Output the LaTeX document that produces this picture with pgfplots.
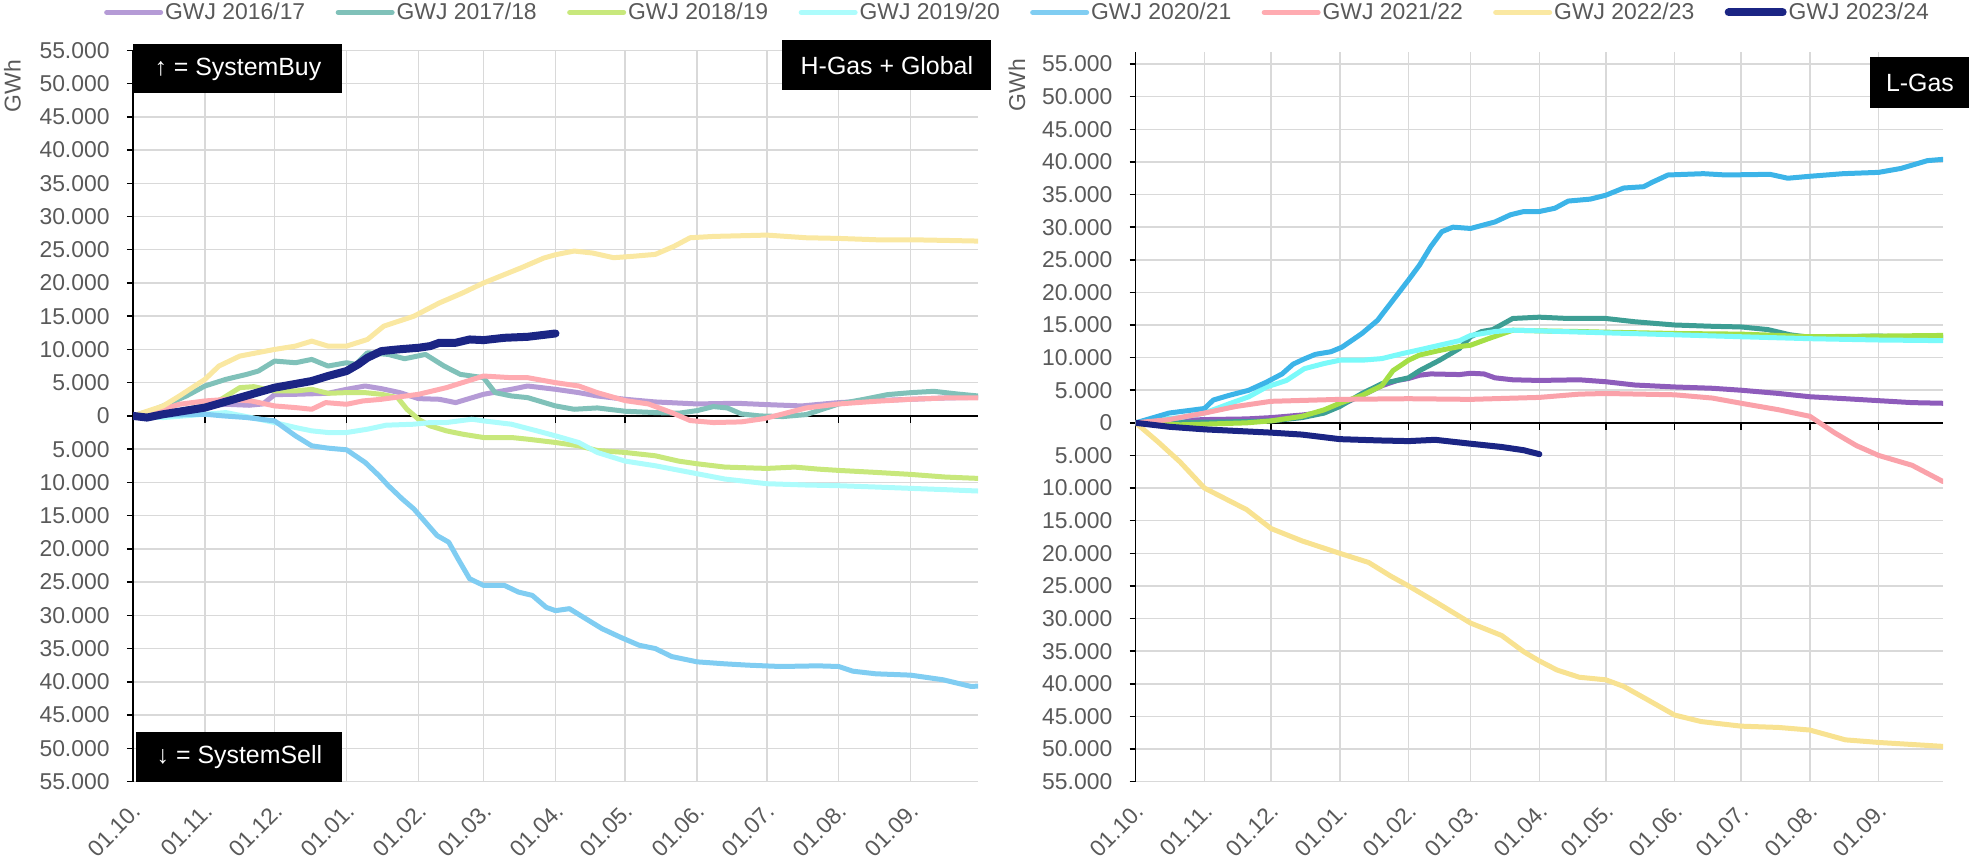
\documentclass[border=0pt]{standalone}
\usepackage{pgfplots}
\pgfplotsset{compat=1.18}
\usepackage{fontspec}
\setmainfont{Liberation Sans}
\definecolor{lpur}{HTML}{B59BD6}
\definecolor{lteal}{HTML}{80C1B9}
\definecolor{lgreen}{HTML}{C8E87C}
\definecolor{lcyan}{HTML}{ADFCFC}
\definecolor{lblue}{HTML}{80CDF2}
\definecolor{lpink}{HTML}{FFABB1}
\definecolor{lyell}{HTML}{FAE8A2}
\definecolor{navy}{HTML}{1B2584}
\definecolor{rpur}{HTML}{8E5CBB}
\definecolor{rteal}{HTML}{3D9E94}
\definecolor{rgreen}{HTML}{A4DF45}
\definecolor{rcyan}{HTML}{7AFAFA}
\definecolor{rblue}{HTML}{3CB4E8}
\definecolor{rpink}{HTML}{FAA2AA}
\definecolor{ryell}{HTML}{F8E291}
\definecolor{gridgray}{HTML}{D9D9D9}
\definecolor{labgray}{HTML}{595959}
\pgfplotsset{
  gwj/.style={
    scale only axis,
    xmin=0, xmax=364, ymin=-55000,
    axis lines*=left,
    x axis line style={draw=none},
    y axis line style={black, line width=0.75bp},
    xtick={0,31,61,92,123,151,182,212,243,273,304,335},
    xticklabels={01.10.,01.11.,01.12.,01.01.,01.02.,01.03.,01.04.,01.05.,01.06.,01.07.,01.08.,01.09.},
    xtick style={draw=none},
    ytick={-55000,-50000,-45000,-40000,-35000,-30000,-25000,-20000,-15000,-10000,-5000,0,5000,10000,15000,20000,25000,30000,35000,40000,45000,50000,55000},
    yticklabels={55.000,50.000,45.000,40.000,35.000,30.000,25.000,20.000,15.000,10.000,5.000,0,5.000,10.000,15.000,20.000,25.000,30.000,35.000,40.000,45.000,50.000,55.000},
    scaled y ticks=false,
    scaled x ticks=false,
    ytick style={black, line width=0.75bp},
    tick align=outside,
    major tick length=3bp,
    grid=major,
    major grid style={draw=gridgray, line width=0.75bp},
    tick label style={font=\fontsize{11.5}{13}\selectfont, text=labgray},
    yticklabel style={inner sep=0pt, xshift=-8.5bp},
    xticklabel style={inner sep=0pt, xshift=2bp, yshift=-10bp, rotate=45, anchor=east},
  },
  ser/.style={line width=2.5bp, line join=round, line cap=round, color=#1},
}
\begin{document}
\begin{tikzpicture}
\useasboundingbox (0,0) rectangle (986bp,431bp);
% ---------------- left: H-Gas + Global ----------------
\begin{axis}[gwj, at={(66.5bp,40.25bp)}, anchor=south west,
  width=422.5bp, height=365.6bp, ymax=55000,
  legend columns=8,
  legend style={draw=none, fill=none, at={(1.0467,1.0518)}, anchor=center,
    font=\fontsize{11.5}{13}\selectfont, nodes={text=labgray, inner sep=1bp},
    /tikz/every even column/.append style={column sep=14.2bp}},
  legend image code/.code={\draw[#1, line cap=round] (0bp,0bp) -- (27bp,0bp);},
]
\draw[black, line width=0.75bp] (axis cs:0,0) -- (axis cs:364,0);
\pgfplotsinvokeforeach{31,61,92,123,151,182,212,243,273,304,335}{\draw[black, line width=0.75bp] (axis cs:#1,0) -- ++(0bp,-3.5bp);}
\addplot[ser=lpur] coordinates {(0,0) (10,200) (20,800) (31,1500) (40,1750) (50,1600) (56,1800) (61,3200) (70,3250) (84,3400) (92,4000) (100,4500) (107,4100) (115,3500) (123,2600) (132,2500) (139,2000) (151,3250) (163,4000) (170,4500) (182,4000) (192,3500) (200,3000) (212,2500) (225,2100) (243,1800) (260,1900) (273,1700) (288,1500) (304,2000) (320,2300) (335,2500) (350,2700) (364,2800)};
\addlegendentry{GWJ 2016/17}
\addplot[ser=lteal] coordinates {(0,0) (8,800) (13,1500) (23,3000) (31,4500) (40,5500) (49,6250) (54,6750) (61,8250) (70,8000) (77,8500) (84,7500) (92,8000) (96,7750) (101,9500) (110,9250) (117,8600) (126,9250) (134,7500) (141,6250) (151,5750) (156,3500) (163,3000) (170,2750) (182,1500) (190,1000) (200,1200) (212,700) (225,500) (235,400) (243,800) (250,1400) (256,1200) (262,300) (270,0) (280,-100) (290,200) (304,1800) (315,2500) (325,3200) (335,3500) (345,3700) (355,3300) (364,3000)};
\addlegendentry{GWJ 2017/18}
\addplot[ser=lgreen] coordinates {(0,0) (20,800) (31,1500) (38,2500) (46,4250) (52,4400) (61,3750) (70,3750) (77,4000) (84,3400) (92,3500) (100,3500) (107,3250) (114,2750) (118,1000) (123,-500) (128,-1500) (135,-2250) (142,-2750) (151,-3250) (163,-3250) (170,-3500) (182,-4000) (192,-4500) (200,-5200) (212,-5500) (225,-6000) (235,-6800) (243,-7200) (255,-7700) (273,-7900) (285,-7700) (295,-8000) (304,-8200) (320,-8500) (335,-8800) (350,-9200) (364,-9400)};
\addlegendentry{GWJ 2018/19}
\addplot[ser=lcyan] coordinates {(0,0) (13,-250) (31,250) (40,500) (51,-250) (61,-1000) (70,-1750) (77,-2250) (84,-2500) (92,-2500) (101,-2000) (109,-1400) (121,-1250) (128,-1000) (135,-1000) (146,-500) (151,-750) (163,-1250) (174,-2250) (182,-3000) (192,-4000) (200,-5500) (212,-6800) (225,-7500) (243,-8700) (255,-9500) (273,-10200) (290,-10400) (304,-10500) (320,-10700) (335,-10900) (350,-11100) (364,-11300)};
\addlegendentry{GWJ 2019/20}
\addplot[ser=lblue] coordinates {(0,0) (31,250) (39,0) (49,-250) (61,-750) (66,-2000) (70,-3000) (77,-4500) (84,-4850) (92,-5100) (100,-7000) (106,-9000) (110,-10500) (116,-12500) (121,-14000) (126,-16000) (131,-18000) (136,-19000) (140,-21500) (145,-24500) (151,-25500) (160,-25500) (166,-26500) (172,-27000) (178,-28800) (182,-29300) (188,-29000) (195,-30500) (202,-32000) (210,-33300) (218,-34500) (225,-35000) (232,-36200) (243,-37000) (255,-37300) (265,-37500) (279,-37700) (295,-37600) (304,-37700) (310,-38400) (320,-38800) (335,-39000) (349,-39700) (361,-40700) (364,-40650)};
\addlegendentry{GWJ 2020/21}
\addplot[ser=lpink] coordinates {(0,0) (13,1000) (20,1750) (31,2250) (41,2500) (51,2250) (61,1500) (70,1250) (77,1000) (83,2000) (92,1750) (99,2250) (107,2500) (123,3250) (135,4250) (151,6000) (163,5750) (170,5750) (182,5000) (192,4500) (200,3500) (212,2300) (222,1800) (232,500) (240,-700) (250,-1000) (262,-900) (272,-400) (280,300) (290,1200) (304,1800) (320,2200) (335,2500) (350,2700) (364,2700)};
\addlegendentry{GWJ 2021/22}
\addplot[ser=lyell] coordinates {(0,0) (13,1500) (20,3000) (31,5500) (37,7500) (46,9000) (61,10000) (70,10500) (77,11250) (84,10500) (92,10500) (101,11500) (108,13500) (121,15000) (132,17000) (142,18500) (151,20000) (167,22250) (177,23750) (182,24250) (190,24800) (198,24500) (207,23800) (215,24000) (225,24300) (233,25500) (240,26800) (250,27000) (273,27200) (290,26800) (304,26700) (320,26500) (335,26500) (350,26400) (364,26300)};
\addlegendentry{GWJ 2022/23}
\addplot[ser=navy, line width=4bp] coordinates {(0,0) (6,-250) (13,250) (31,1250) (41,2250) (51,3250) (61,4250) (69,4750) (77,5250) (84,6000) (92,6750) (97,7750) (101,8750) (107,9750) (114,10000) (123,10250) (128,10500) (132,11000) (139,11000) (145,11500) (151,11400) (160,11750) (170,11900) (182,12400)};
\addlegendentry{GWJ 2023/24}
\end{axis}
% ---------------- right: L-Gas ----------------
\begin{axis}[gwj, at={(567.85bp,40.2bp)}, anchor=south west,
  width=403.65bp, height=364.95bp, ymax=56900]
\draw[black, line width=0.75bp] (axis cs:0,0) -- (axis cs:364,0);
\pgfplotsinvokeforeach{31,61,92,123,151,182,212,243,273,304,335}{\draw[black, line width=0.75bp] (axis cs:#1,0) -- ++(0bp,-3.5bp);}
\addplot[ser=rpur] coordinates {(0,0) (15,300) (31,500) (50,600) (61,800) (75,1200) (85,1600) (92,2700) (102,4200) (111,5700) (118,6500) (123,6800) (128,7300) (133,7500) (146,7400) (151,7600) (157,7500) (162,6900) (170,6600) (182,6500) (200,6600) (212,6300) (225,5800) (243,5500) (260,5300) (273,5000) (290,4500) (304,4000) (320,3700) (335,3400) (350,3100) (364,3000)};
\addplot[ser=rteal] coordinates {(0,0) (31,100) (50,200) (61,300) (75,800) (85,1500) (92,2500) (102,4500) (111,6000) (123,6900) (128,8000) (137,9600) (146,11400) (151,13200) (156,14000) (161,14300) (170,16000) (182,16200) (195,16000) (212,16000) (225,15500) (243,15000) (260,14800) (273,14700) (285,14300) (295,13500) (304,13100) (320,13200) (335,13300) (350,13100) (364,13100)};
\addplot[ser=rgreen] coordinates {(0,0) (20,-300) (31,-200) (50,0) (61,300) (75,1000) (85,2000) (92,3000) (102,4200) (111,5700) (116,8000) (123,9600) (128,10400) (137,11100) (146,11700) (151,11900) (159,12900) (170,14200) (182,14100) (200,14000) (212,13900) (243,13700) (273,13600) (290,13400) (304,13200) (335,13300) (364,13400)};
\addplot[ser=rcyan] coordinates {(0,0) (10,500) (20,800) (31,1500) (42,2900) (51,4000) (59,5500) (68,6500) (76,8300) (85,9100) (92,9600) (102,9600) (111,9850) (120,10600) (128,11200) (137,11900) (146,12600) (151,13400) (162,14000) (170,14200) (182,14100) (212,13800) (243,13500) (273,13200) (304,12900) (335,12700) (364,12600)};
\addplot[ser=rblue] coordinates {(0,0) (5,500) (15,1500) (31,2200) (35,3500) (42,4200) (51,5000) (59,6250) (66,7500) (71,9000) (76,9800) (81,10500) (88,10900) (93,11600) (102,13700) (109,15700) (116,18800) (123,21900) (128,24200) (133,27000) (138,29300) (143,30000) (151,29800) (162,30800) (169,31900) (175,32400) (182,32400) (189,32900) (195,34000) (205,34300) (212,34900) (220,36000) (229,36200) (233,36900) (240,38000) (256,38200) (266,38000) (286,38100) (294,37500) (304,37800) (319,38200) (335,38400) (345,39000) (357,40200) (364,40400)};
\addplot[ser=rpink] coordinates {(0,0) (15,500) (31,1500) (45,2500) (61,3300) (92,3600) (123,3700) (151,3600) (182,3900) (200,4400) (212,4500) (243,4300) (260,3800) (273,3000) (290,2000) (304,1000) (315,-1500) (325,-3500) (335,-5000) (350,-6500) (364,-9000)};
\addplot[ser=ryell] coordinates {(0,0) (10,-2900) (20,-6000) (31,-10000) (50,-13300) (61,-16200) (75,-18100) (92,-20000) (105,-21400) (115,-23500) (123,-25000) (135,-27400) (151,-30700) (165,-32600) (175,-35100) (182,-36500) (190,-37900) (200,-39000) (212,-39400) (220,-40400) (230,-42300) (243,-44800) (255,-45800) (273,-46500) (290,-46700) (304,-47100) (320,-48600) (335,-49000) (364,-49600)};
\addplot[ser=navy, line width=3bp] coordinates {(0,0) (15,-600) (31,-1000) (61,-1500) (75,-1800) (92,-2500) (110,-2700) (123,-2800) (135,-2600) (151,-3200) (165,-3700) (175,-4200) (182,-4800)};
\end{axis}
% ---------------- boxes and unit labels ----------------
\tikzset{blk/.style={fill=black, text=white, inner sep=0pt, align=center, font=\fontsize{12.5}{14}\selectfont}}
\node[blk, anchor=north west, minimum width=104.5bp, minimum height=24.5bp] at (66.5bp,409bp) {↑ = SystemBuy};
\node[blk, anchor=south west, minimum width=103bp, minimum height=25bp] at (68bp,40bp) {↓ = SystemSell};
\node[blk, anchor=north west, minimum width=104.5bp, minimum height=25bp] at (391bp,411bp) {H-Gas + Global};
\node[blk, anchor=north west, minimum width=49.5bp, minimum height=25.5bp] at (935bp,402.5bp) {L-Gas};
\node[rotate=90, text=labgray, font=\fontsize{11.5}{13}\selectfont] at (6.25bp,388bp) {GWh};
\node[rotate=90, text=labgray, font=\fontsize{11.5}{13}\selectfont] at (508.5bp,388.5bp) {GWh};
\end{tikzpicture}
\end{document}
